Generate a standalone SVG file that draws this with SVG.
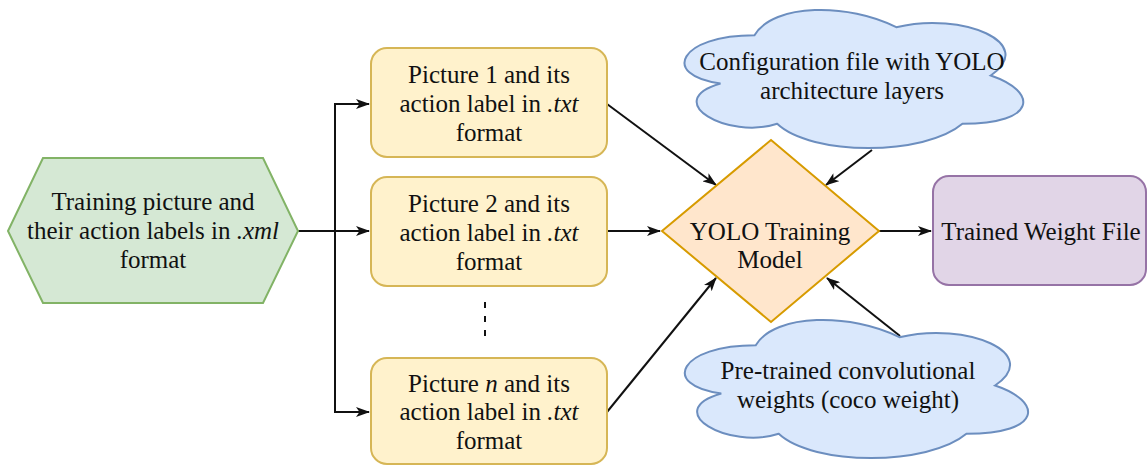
<svg xmlns="http://www.w3.org/2000/svg" width="1147" height="466" viewBox="0 0 1147 466">
<defs>
<style>
text{font-family:'Liberation Serif','DejaVu Serif','Noto Serif',serif;font-size:25px;fill:#111;text-anchor:middle}
.it{font-style:italic}
.hex{fill:#d5e8d4;stroke:#82b366;stroke-width:2}
.box{fill:#fff2cc;stroke:#d6b656;stroke-width:2}
.dia{fill:#ffe6cc;stroke:#d79b00;stroke-width:2}
.pur{fill:#e1d5e7;stroke:#9673a6;stroke-width:2}
.cld{fill:#dae8fc;stroke:#6c8ebf;stroke-width:2}
.ln{fill:none;stroke:#111;stroke-width:2}
</style>
<marker id="arr" viewBox="0 0 14 10" refX="13" refY="5" markerWidth="14" markerHeight="10" markerUnits="userSpaceOnUse" orient="auto">
<path d="M0,0 L14,5 L0,10 L3.5,5 Z" fill="#111"/>
</marker>
</defs>
<g id="connectors">
<path class="ln" d="M298,231 L369,231" marker-end="url(#arr)"/>
<path class="ln" d="M335,231 L335,104 L369,104" marker-end="url(#arr)"/>
<path class="ln" d="M335,231 L335,412 L369,412" marker-end="url(#arr)"/>
<path class="ln" d="M607,104 L716,185" marker-end="url(#arr)"/>
<path class="ln" d="M607,231 L660,231" marker-end="url(#arr)"/>
<path class="ln" d="M607,412 L716,278" marker-end="url(#arr)"/>
<path class="ln" d="M872,150 L826,185" marker-end="url(#arr)"/>
<path class="ln" d="M900,336 L827,278" marker-end="url(#arr)"/>
<path class="ln" d="M879,231 L931,231" marker-end="url(#arr)"/>
<path class="ln" d="M485,302 L485,338" stroke-dasharray="6 8"/>
</g>
<g id="source">
<polygon class="hex" points="8,231 43,158 263,158 298,231 263,303 43,303"/>
<text x="153" y="210" font-family="Liberation Serif, serif">Training picture and</text>
<text x="153" y="239" font-family="Liberation Serif, serif">their action labels in <tspan class="it">.xml</tspan></text>
<text x="153" y="268" font-family="Liberation Serif, serif">format</text>
</g>
<g id="picture1">
<rect class="box" x="371" y="48" width="236" height="109" rx="16"/>
<text x="489" y="83">Picture 1 and its</text>
<text x="489" y="112">action label in <tspan class="it">.txt</tspan></text>
<text x="489" y="141">format</text>
</g>
<g id="picture2">
<rect class="box" x="371" y="177" width="236" height="109" rx="16"/>
<text x="489" y="212">Picture 2 and its</text>
<text x="489" y="241">action label in <tspan class="it">.txt</tspan></text>
<text x="489" y="270">format</text>
</g>
<g id="picturen">
<rect class="box" x="371" y="358" width="236" height="106" rx="16"/>
<text x="489" y="392">Picture <tspan class="it">n</tspan> and its</text>
<text x="489" y="420">action label in <tspan class="it">.txt</tspan></text>
<text x="489" y="449">format</text>
</g>
<g id="config">
<path class="cld" d="M754.5,35.25 C678.9,35.25 660,75.5 720.48,83.55 C660,101.26 728.04,139.9 777.18,123.8 C811.2,156 924.6,156 962.4,123.8 C1038,123.8 1038,91.6 990.75,75.5 C1038,43.3 962.4,11.1 896.25,27.2 C849,3.05 773.4,3.05 754.5,35.25 Z"/>
<text x="852" y="70">Configuration file with YOLO</text>
<text x="852" y="99">architecture layers</text>
</g>
<g id="yolo">
<polygon class="dia" points="771,140 879,231 771,322 662,231"/>
<text x="770" y="240">YOLO Training</text>
<text x="770" y="268">Model</text>
</g>
<g id="pretrained">
<path class="cld" d="M755.75,345.25 C679.15,345.25 660,385.5 721.28,393.55 C660,411.26 728.94,449.9 778.73,433.8 C813.2,466 928.1,466 966.4,433.8 C1043,433.8 1043,401.6 995.1,385.5 C1043,353.3 966.4,321.1 899.4,337.2 C851.5,313.05 774.9,313.05 755.75,345.25 Z"/>
<text x="848" y="379">Pre-trained convolutional</text>
<text x="848" y="408">weights (coco weight)</text>
</g>
<g id="trained">
<rect class="pur" x="933" y="176" width="213" height="109" rx="16"/>
<text x="1041" y="240">Trained Weight File</text>
</g>
</svg>
